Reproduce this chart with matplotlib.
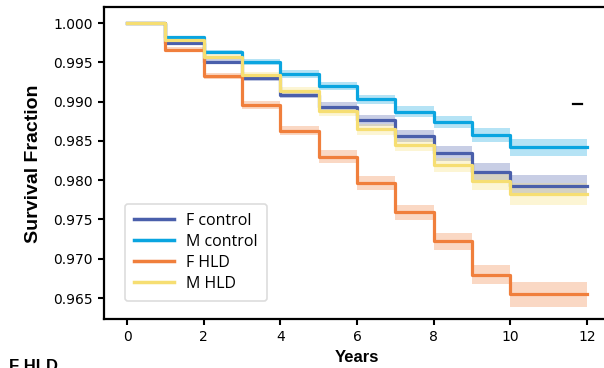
import matplotlib
matplotlib.use("Agg")
import matplotlib.pyplot as plt
from matplotlib.lines import Line2D
import numpy as np

# ---- data ----
years = [0, 1, 2, 3, 4, 5, 6, 7, 8, 9, 10, 12]
labels = ["F control", "M control", "F HLD", "M HLD"]
f_control = [1.0, 0.9974, 0.9951, 0.9930, 0.9909, 0.9893, 0.9876, 0.9856, 0.9834, 0.9811, 0.9793]
m_control = [1.0, 0.9982, 0.9963, 0.9950, 0.9935, 0.9920, 0.9903, 0.9887, 0.9874, 0.9857, 0.9842]
f_hld = [1.0, 0.9966, 0.9933, 0.9896, 0.9863, 0.9830, 0.9796, 0.9759, 0.9722, 0.9680, 0.9655]
m_hld = [1.0, 0.9979, 0.9957, 0.9934, 0.9914, 0.9888, 0.9865, 0.9845, 0.9819, 0.9799, 0.9783]
f_control_ci = [0, 0.0002, 0.0003, 0.0004, 0.0005, 0.0006, 0.0007, 0.0008, 0.0009, 0.0011, 0.0013]
m_control_ci = [0, 0.0002, 0.0003, 0.0004, 0.0005, 0.0005, 0.0006, 0.0007, 0.0008, 0.0009, 0.0011]
f_hld_ci = [0, 0.0003, 0.0004, 0.0005, 0.0006, 0.0008, 0.0009, 0.0010, 0.0011, 0.0012, 0.0016]
m_hld_ci = [0, 0.0002, 0.0003, 0.0004, 0.0005, 0.0006, 0.0007, 0.0008, 0.0009, 0.0011, 0.0014]
colors = ["#4a5fab", "#0aa5e0", "#f07f3c", "#f6de72"]
xticks = [0, 2, 4, 6, 8, 10, 12]
yticks = [0.965, 0.970, 0.975, 0.980, 0.985, 0.990, 0.995, 1.000]

series = [f_control, m_control, f_hld, m_hld]
cis = [f_control_ci, m_control_ci, f_hld_ci, m_hld_ci]

fig = plt.figure(figsize=(6.04, 3.68), dpi=100)
ax = fig.add_axes([104/604, 48.7/368, 506/604, 312/368])

t = np.array(years, dtype=float)
for vals, ci, col, lab in zip(series, cis, colors, labels):
    v = np.array(vals + [vals[-1]])
    c = np.array(ci + [ci[-1]])
    ax.fill_between(t, v - c, v + c, step="post", color=col, alpha=0.3, lw=0)
    ax.plot(t, v, drawstyle="steps-post", color=col, lw=2.3, label=lab)

ax.set_xlim(-0.6, 12.6)
ax.set_ylim(0.9623, 1.0020)
ax.set_xticks(xticks)
ax.set_yticks(yticks)
ax.set_yticklabels([f"{y:.3f}" for y in yticks])
ax.tick_params(axis="both", labelsize=10, width=1.5, length=4.5, direction="out", color="black")
for s in ax.spines.values():
    s.set_linewidth(1.6)
    s.set_color("black")

ax.set_xlabel("Years", fontfamily="Liberation Sans", fontweight="bold", fontsize=12, labelpad=4)
ax.set_ylabel("Survival Fraction", fontfamily="Liberation Sans", fontweight="bold", fontsize=14, labelpad=8)

leg = ax.legend(loc="lower left", bbox_to_anchor=(21/506, 18.5/312), borderaxespad=0,
                prop={"family": "Open Sans", "size": 11.5},
                frameon=True, fancybox=True, edgecolor="#d4d4d4", handlelength=2.5, labelspacing=0.32,
                borderpad=0.55, handletextpad=0.8)
leg.get_frame().set_linewidth(1.2)
for h in leg.get_lines():
    h.set_linewidth(2.5)

fig.text(9/604, (368-359)/368, "F HLD", fontfamily="Liberation Sans", fontweight="bold", fontsize=12,
         ha="left", va="top")
fig.add_artist(Line2D([573/604, 582/604], [(368-104.3)/368]*2, color="black", lw=1.6))

fig.savefig("out.png", dpi=100)
